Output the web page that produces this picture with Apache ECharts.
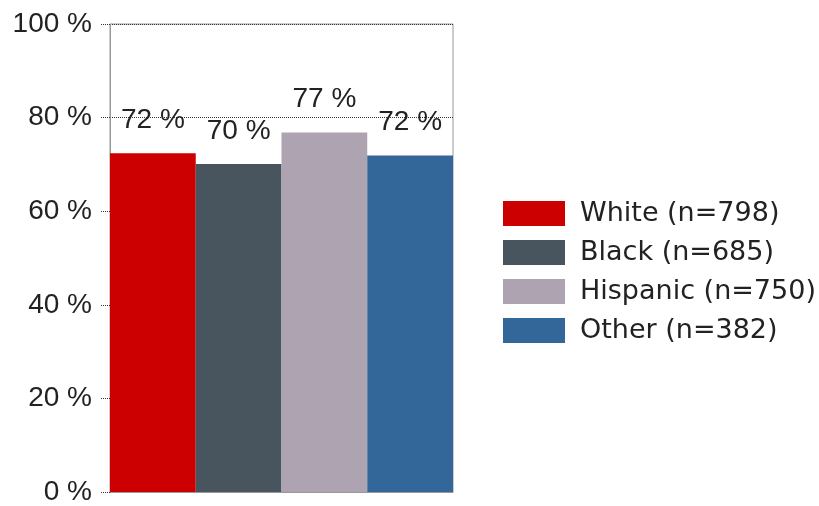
<!DOCTYPE html>
<html><head><meta charset="utf-8">
<script src="https://cdn.jsdelivr.net/npm/echarts@6/dist/echarts.min.js"></script>
<style>html,body{margin:0;padding:0;background:#fff}#c{width:819px;height:506px}</style>
</head><body><div id="c"></div>
<script>
var seriesNames = ['White (n=798)', 'Black (n=685)', 'Hispanic (n=750)', 'Other (n=382)'];
var seriesValues = [72.4, 70.1, 76.8, 71.9];
var seriesLabels = ['72 %', '70 %', '77 %', '72 %'];
var seriesColors = ['#cc0000', '#48545e', '#aea3b0', '#336699'];
var categories = [''];
var yTicks = [0, 20, 40, 60, 80, 100];

var font = "'Liberation Sans', Arial, sans-serif";
var chart = echarts.init(document.getElementById('c'));
var series = seriesNames.map(function (n, i) {
  return {
    name: n, type: 'bar', data: [seriesValues[i]],
    barGap: '0%', barCategoryGap: '0%',
    itemStyle: { color: seriesColors[i] },
    label: { show: true, position: 'top', distance: 19, formatter: seriesLabels[i],
      color: '#222', fontSize: 28, fontFamily: font }
  };
});
chart.setOption({
  animation: false,
  grid: { left: 110, right: 366, top: 24, bottom: 13, show: true, borderColor: '#999', borderWidth: 1 },
  legend: {
    orient: 'vertical', left: 498, top: 195, itemWidth: 62, itemHeight: 25, itemGap: 12,
    textStyle: { fontSize: 27, lineHeight: 25, fontFamily: "'DejaVu Sans', sans-serif", color: '#222', padding: [0, 0, 0, 10] },
    icon: 'rect', data: seriesNames
  },
  xAxis: {
    type: 'category', data: categories,
    axisLine: { lineStyle: { color: '#999' } },
    axisTick: { alignWithLabel: true, length: 8, lineStyle: { color: '#333' } },
    axisLabel: { show: false }
  },
  yAxis: {
    type: 'value', min: yTicks[0], max: yTicks[yTicks.length - 1], interval: 20,
    axisLine: { show: true, lineStyle: { color: '#999' } },
    axisTick: { show: true, length: 10, lineStyle: { color: '#333', type: 'dotted' } },
    axisLabel: { formatter: '{value} %', fontSize: 28, fontFamily: font, color: '#222', margin: 18 },
    splitLine: { lineStyle: { color: '#333', type: 'dotted' } }
  },
  series: series
});
</script></body></html>
